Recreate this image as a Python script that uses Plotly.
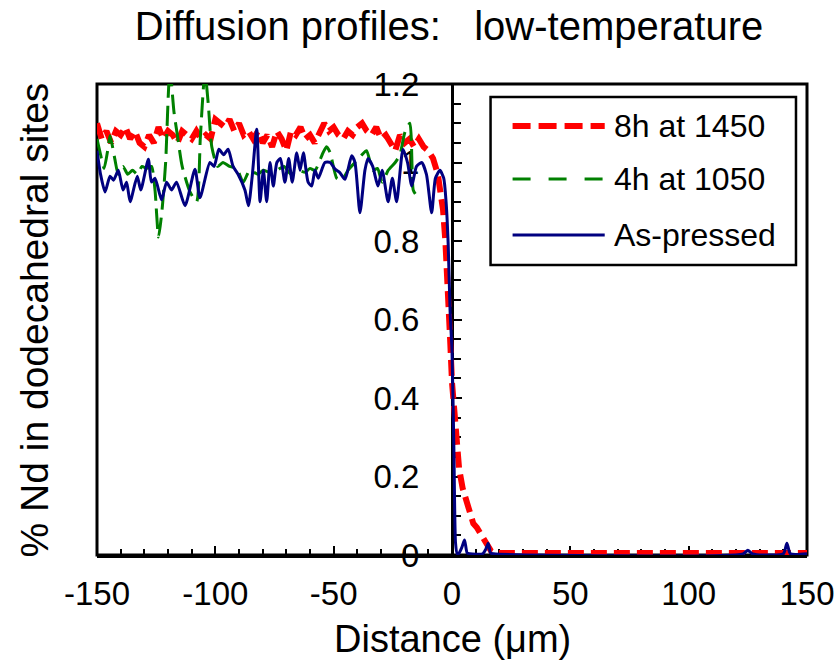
import plotly.graph_objects as go

# ---------------- data ----------------
title_text = "Diffusion profiles:   low-temperature"
x_title = "Distance (\u03bcm)"
y_title = "% Nd in dodecahedral sites"
series_names = ["8h at 1450", "4h at 1050", "As-pressed"]

red_x = [-150, -148, -146, -144, -142, -140, -138, -136, -134, -132, -130, -128, -126, -124, -122,
         -120, -118, -116, -114, -112, -110, -108, -106, -104, -102, -100, -98, -96, -94, -92, -90,
         -88, -86, -84, -82, -80, -78, -76, -74, -72, -70, -68, -66, -64, -62, -60, -58, -56, -54,
         -52, -50, -48, -46, -44, -42, -40, -38, -36, -34, -32, -30, -28, -26, -24, -22, -20, -18,
         -16, -14, -12, -10, -8, -6, -4.5, -3.8, -2.8, -1.7, -0.8, 0, 1, 2, 3, 4.5, 6, 7.5, 9,
         10.5, 12, 13.5, 15, 16.5, 18, 150]
red_y = [1.10, 1.06, 1.08, 1.05, 1.08, 1.07, 1.09, 1.06, 1.08, 1.05, 1.04, 1.07, 1.05, 1.09, 1.06,
         1.08, 1.07, 1.05, 1.08, 1.07, 1.06, 1.08, 1.06, 1.07, 1.06, 1.11, 1.10, 1.09, 1.11, 1.08, 1.10,
         1.07, 1.08, 1.06, 1.08, 1.05, 1.07, 1.04, 1.08, 1.06, 1.03, 1.08, 1.07, 1.09, 1.06, 1.07, 1.05,
         1.08, 1.10, 1.08, 1.09, 1.07, 1.06, 1.08, 1.07, 1.09, 1.10, 1.08, 1.07, 1.09, 1.06, 1.07, 1.05,
         1.03, 1.07, 1.05, 1.06, 1.04, 1.06, 1.04, 1.03, 1.01, 0.97, 0.92, 0.88, 0.80, 0.69, 0.55, 0.44,
         0.35, 0.27, 0.22, 0.17, 0.14, 0.11, 0.08, 0.07, 0.055, 0.04, 0.02, 0.01, 0.005, 0.005]

green_x = [-150, -148.5, -147, -145.5, -144.5, -142.5, -141, -139, -137, -135, -133, -131, -129, -127,
           -125.5, -124, -122.5, -121, -119.2, -117.5, -116, -114, -110.7, -107.9, -106.3, -104.4,
           -103, -101.5, -99, -96.8, -94, -91, -88.2, -85.5, -82, -79.8, -77, -74, -71, -68, -65,
           -62, -60, -57.9, -54.5, -53, -51.5, -48.7, -46.5, -44, -41, -38, -36.1, -33.4, -31.5,
           -29.5, -27, -24, -22, -19.9, -17.8, -16.4, -15.5]
green_y = [1.06, 1.02, 0.985, 1.03, 1.068, 1.01, 0.97, 0.99, 0.97, 0.98, 0.97, 0.99, 0.985, 0.99,
           0.93, 0.81, 0.88, 1.0, 1.24, 1.13, 1.068, 0.99, 0.925, 0.90, 1.068, 1.23,
           1.15, 1.04, 0.99, 1.0, 0.99, 0.985, 0.95, 0.98, 0.97, 0.98, 0.975, 0.98, 0.99, 0.97, 0.98,
           0.975, 0.985, 0.98, 1.025, 1.04, 1.025, 0.96, 0.955, 0.98, 1.0, 1.02, 1.03, 0.98, 0.985,
           0.95, 0.98, 1.0, 1.02, 1.077, 1.10, 0.93, 0.92]

blue_x = [-150, -148.5, -146.6, -144.5, -143, -141, -139, -137.5, -136, -133, -131.5, -128.3, -127,
          -125.5, -122.7, -120.6, -118.5, -116.4, -112.8, -108.6, -106.5, -102.3, -100.5, -98.5,
          -96.5, -94.6, -92.5, -90.4, -87.5, -86, -84.5, -82.5, -81.1, -79.7, -78.3, -76.9, -75.5,
          -74, -72.5, -70.6, -69, -67.5, -65.6, -64.2, -62.8, -60.8, -59.3, -57.9, -56.5, -53.7,
          -51.5, -49.4, -47.5, -45.2, -42.4, -41, -38.9, -36.8, -35.5, -33.5, -31.3, -29.5, -27,
          -25.2, -23.4, -20.7, -18.8, -17, -15, -12.8, -10.8, -8.6, -7, -5.1, -3.5, -2.5, -1.6,
          -0.8, 0, 0.8, 1.5, 2.2, 3, 4.2, 5.3, 6.4, 7.5, 13, 14.3, 15.3, 16.3, 17.5, 123, 125, 127,
          140, 141.5, 143, 150]
blue_y = [1.03, 0.97, 0.925, 0.965, 0.955, 0.98, 0.93, 0.95, 0.90, 0.965, 0.93, 1.008, 0.95,
          0.96, 0.905, 0.95, 0.93, 0.95, 0.89, 0.983, 0.91, 1.00, 0.99, 1.034,
          1.02, 1.034, 0.99, 0.97, 0.93, 0.89, 0.96, 1.085, 0.90, 0.98, 0.90, 1.0, 0.94,
          1.0, 1.01, 0.95, 1.01, 0.95, 1.025, 0.98, 1.025, 0.95, 0.94, 0.98, 0.96, 1.0,
          1.0, 0.983, 0.975, 0.957, 1.017, 1.0, 0.872, 0.98, 1.01, 0.99, 0.94, 0.98, 0.90,
          0.96, 0.90, 1.034, 1.0, 0.94, 0.99, 1.0, 0.97, 0.872, 0.96, 0.98, 0.96, 0.90, 0.79,
          0.62, 0.52, 0.27, 0.03, 0.003, 0.005, 0.02, 0.038, 0.005, 0.003, 0.003, 0.015, 0.03, 0.005, 0.003,
          0.003, 0.012, 0.003, 0.003, 0.03, 0.003, 0.003]

x_ticks = [-150, -100, -50, 0, 50, 100, 150]
x_tick_text = ["-150", "-100", "-50", "0", "50", "100", "150"]
y_ticks = [0, 0.2, 0.4, 0.6, 0.8, 1, 1.2]
y_tick_text = ["0", "0.2", "0.4", "0.6", "0.8", "1", "1.2"]

RED, GREEN, NAVY = "#FF0000", "#008000", "#000080"
FONT = "Liberation Sans, Arial, sans-serif"

# the page body margin is removed (post_script below), so the figure fills the window
W, H = 838, 666

fig = go.Figure()
fig.add_trace(go.Scatter(x=red_x, y=red_y, mode="lines", name=series_names[0], showlegend=False,
                         cliponaxis=False,
                         line=dict(color=RED, width=6, dash="16px,7px")))
fig.add_trace(go.Scatter(x=green_x, y=green_y, mode="lines", name=series_names[1], showlegend=False,
                         line=dict(color=GREEN, width=3, dash="20px,8px", shape="spline", smoothing=0.6)))
fig.add_trace(go.Scatter(x=blue_x, y=blue_y, mode="lines", name=series_names[2], showlegend=False,
                         cliponaxis=False,
                         line=dict(color=NAVY, width=3, shape="spline", smoothing=0.6)))

fig.update_layout(
    width=W, height=H,
    margin=dict(l=97, r=W - 807, t=84, b=H - 555, autoexpand=False),
    paper_bgcolor="white", plot_bgcolor="white",
    font=dict(family=FONT, color="black", size=32),
    title=dict(text=title_text, x=449 / W, xanchor="center", xref="container",
               y=1 - 26 / H, yanchor="middle", yref="container",
               font=dict(size=40, family=FONT, color="black")),
    xaxis=dict(range=[-150, 150], tickvals=x_ticks, ticktext=x_tick_text, ticks="inside", ticklen=9,
               tickwidth=2, tickcolor="black", showline=True, linewidth=3, linecolor="black",
               showgrid=False, zeroline=False, layer="below traces", automargin=False,
               tickfont=dict(size=33, family=FONT), ticklabelstandoff=7,
               minor=dict(dtick=10, tick0=0, ticks="inside", ticklen=6, tickwidth=2, tickcolor="black")),
    yaxis=dict(range=[0, 1.2], tickvals=y_ticks, ticktext=y_tick_text, ticks="inside", ticklen=8,
               tickwidth=2, tickcolor="black", showline=True, linewidth=3, linecolor="black",
               showgrid=False, zeroline=False, anchor="free", position=0.5, layer="below traces",
               automargin=False,
               tickfont=dict(size=33, family=FONT), ticklabelstandoff=25,
               minor=dict(dtick=0.05, tick0=0, ticks="inside", ticklen=7, tickwidth=2, tickcolor="black")),
)

# plot frame
fig.add_shape(type="rect", xref="paper", yref="paper", x0=0, x1=1, y0=0, y1=1,
              line=dict(color="black", width=3), layer="below")

# axis titles
fig.add_annotation(text=y_title, xref="paper", yref="paper", x=(35 - 97) / 709.0, y=0.5, textangle=-90,
                   showarrow=False, xanchor="center", yanchor="middle",
                   font=dict(size=39, family=FONT, color="black"))
fig.add_annotation(text=x_title, xref="paper", yref="paper", x=0.5, y=(555 - 639) / 471,
                   showarrow=False, xanchor="center", yanchor="middle",
                   font=dict(size=38, family=FONT, color="black"))

# custom legend
def px2x(px):
    return (px - 97) / 709.0

def py2y(py):
    return (555 - py) / 471.0

fig.add_shape(type="rect", xref="paper", yref="paper", x0=px2x(490), x1=px2x(795),
              y0=py2y(265), y1=py2y(97), line=dict(color="black", width=2.5),
              fillcolor="white", layer="above")
leg_rows = [(126, RED, 6, "18px,8px"), (179, GREEN, 3, "18px,18px"), (235, NAVY, 3, "solid")]
for (py, col, w, dash), name in zip(leg_rows, series_names):
    fig.add_shape(type="line", xref="paper", yref="paper", x0=px2x(512), x1=px2x(604),
                  y0=py2y(py), y1=py2y(py), line=dict(color=col, width=w, dash=dash), layer="above")
    fig.add_annotation(text=name, xref="paper", yref="paper", x=px2x(611), y=py2y(py),
                       showarrow=False, xanchor="left", yanchor="middle",
                       font=dict(size=32, family=FONT, color="black"))

fig.write_html("out.html", config={"displayModeBar": False},
               post_script="document.body.style.margin='0';document.body.style.padding='0';")
